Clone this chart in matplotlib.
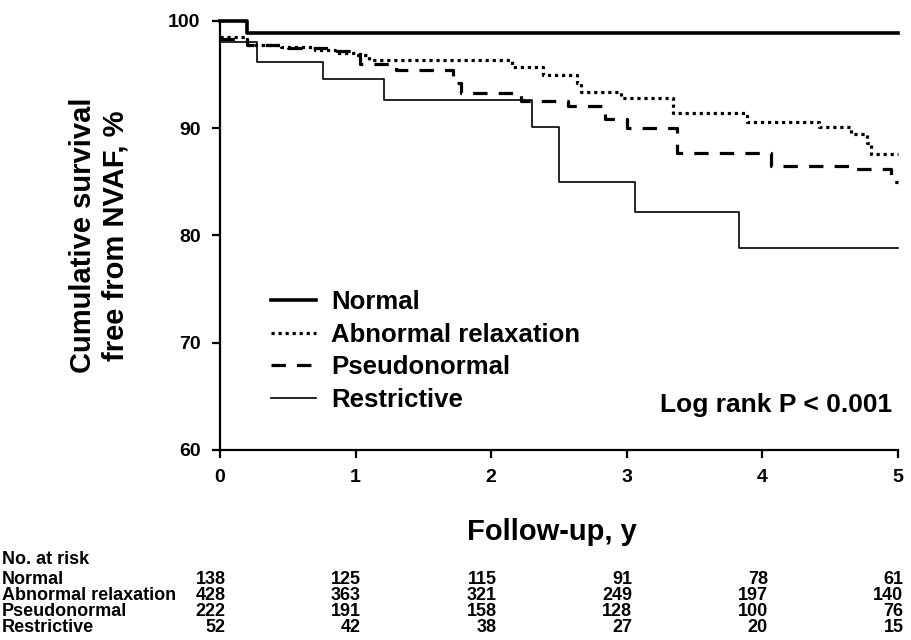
import numpy as np
import matplotlib.pyplot as plt
import matplotlib.transforms as mtransforms

plt.rcParams['font.family'] = ['Liberation Sans', 'DejaVu Sans']
plt.rcParams['font.weight'] = 'bold'

# Kaplan-Meier steps (years, % free from NVAF)
normal_t = [0, 0.2, 5]
normal_s = [100, 98.9, 98.9]

abn_t = [0, 0.2, 0.45, 0.7, 0.85, 1.0, 1.1, 2.15, 2.38, 2.63, 2.66, 2.96, 3.34, 3.89, 4.42, 4.65, 4.77, 4.8, 5]
abn_s = [98.5, 97.8, 97.6, 97.3, 97.0, 96.8, 96.4, 95.7, 95.0, 94.2, 93.4, 92.8, 91.4, 90.6, 90.1, 89.5, 88.6, 87.6, 87.6]

pseudo_t = [0, 0.2, 0.5, 0.8, 1.03, 1.3, 1.72, 1.78, 2.22, 2.57, 2.84, 3.0, 3.37, 4.06, 4.68, 4.95, 5]
pseudo_s = [98.3, 97.8, 97.5, 97.2, 96.0, 95.4, 94.2, 93.3, 92.5, 92.1, 90.9, 90.0, 87.7, 86.5, 86.2, 85.0, 85.0]

restr_t = [0, 0.27, 0.76, 1.21, 2.30, 2.50, 3.06, 3.83, 5]
restr_s = [98.0, 96.2, 94.6, 92.6, 90.1, 85.0, 82.2, 78.8, 78.8]

# number at risk table
risk_years = [0, 1, 2, 3, 4, 5]
risk_groups = ['Normal', 'Abnormal relaxation', 'Pseudonormal', 'Restrictive']
risk_normal = [138, 125, 115, 91, 78, 61]
risk_abn = [428, 363, 321, 249, 197, 140]
risk_pseudo = [222, 191, 158, 128, 100, 76]
risk_restr = [52, 42, 38, 27, 20, 15]

fig = plt.figure(figsize=(9.12, 6.4), dpi=100)
ax = fig.add_axes([220/912, 1-450/640, 678/912, 429/640])

ax.step(normal_t, normal_s, where='post', color='black', lw=2.6, label='Normal', clip_on=False)
ax.step(abn_t, abn_s, where='post', color='black', lw=2.3, ls=(0, (1, 1.2)), label='Abnormal relaxation', clip_on=False)
ax.step(pseudo_t, pseudo_s, where='post', color='black', lw=2.3, ls=(0, (4.5, 3.5)), label='Pseudonormal', clip_on=False)
ax.step(restr_t, restr_s, where='post', color='black', lw=1.2, label='Restrictive', clip_on=False)

ax.set_xlim(0, 5)
ax.set_ylim(60, 100)
ax.set_xticks(risk_years)
ax.set_yticks([60, 70, 80, 90, 100])
ax.spines['top'].set_visible(False)
ax.spines['right'].set_visible(False)
ax.spines['left'].set_linewidth(1.6)
ax.spines['bottom'].set_linewidth(1.6)
ax.tick_params(direction='out', length=6, width=1.6, labelsize=14, pad=8)

ax.set_ylabel('Cumulative survival\nfree from NVAF, %', fontsize=21, fontweight='bold', labelpad=28)

ax.legend(loc='upper left', bbox_to_anchor=(0.075, 0.372), frameon=False, fontsize=18.5,
          handlelength=1.75, handletextpad=0.6, labelspacing=0.33, borderaxespad=0, borderpad=0)

ax.text(4.96, 64.2, 'Log rank P < 0.001', fontsize=19, fontweight='bold', ha='right', va='center')

# x label and at-risk table, placed below the axes
trans = mtransforms.blended_transform_factory(ax.transData, fig.transFigure)
fig.text(2.45, 1-532/640, 'Follow-up, y', transform=trans, fontsize=21, fontweight='bold', ha='center', va='center')

row_y = [579, 595, 612, 628]
fig.text(2/912, 1-560/640, 'No. at risk', fontsize=13, fontweight='bold', va='center')
for name, counts, py in zip(risk_groups, [risk_normal, risk_abn, risk_pseudo, risk_restr], row_y):
    fig.text(2/912, 1-py/640, name, fontsize=13, fontweight='bold', va='center')
    for yr, n in zip(risk_years, counts):
        fig.text(yr + 0.04, 1-py/640, str(n), transform=trans, fontsize=13, fontweight='bold',
                 ha='right', va='center')

fig.savefig('out.png', dpi=100)
